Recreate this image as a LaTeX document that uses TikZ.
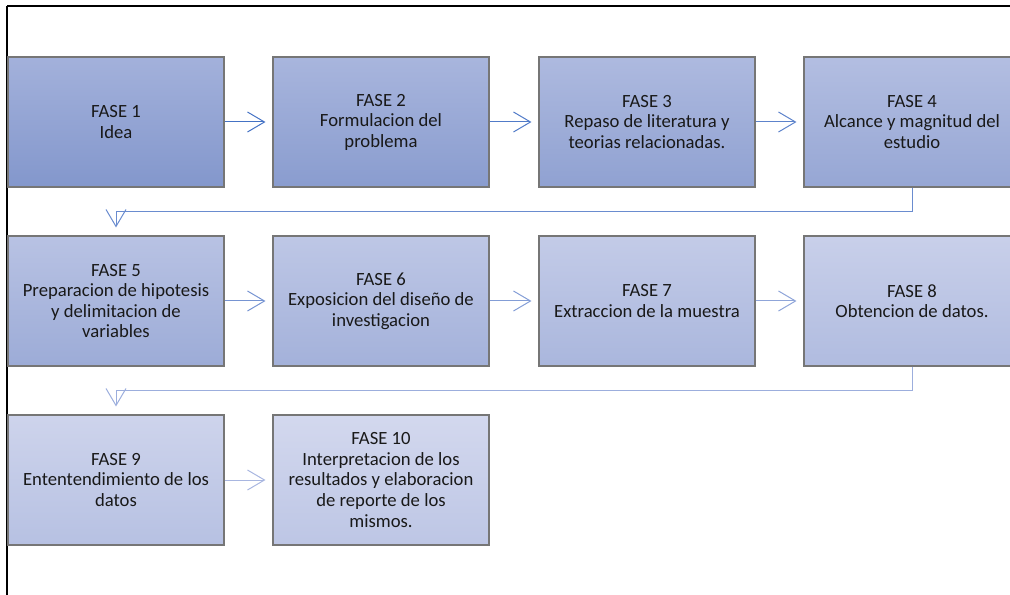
\documentclass[tikz,border=0pt]{standalone}
\usepackage{fontspec}
\setmainfont{Carlito}
\usetikzlibrary{arrows.meta}
\definecolor{topA}{HTML}{A3B1DB}
\definecolor{topB}{HTML}{D3D8EE}
\definecolor{botA}{HTML}{8397CC}
\definecolor{botB}{HTML}{BDC6E5}
\definecolor{arA}{HTML}{4472C4}
\definecolor{arB}{HTML}{A8B6E0}
\definecolor{boxline}{HTML}{767676}
\colorlet{t1}{topA}\colorlet{b1}{botA}
\colorlet{t2}{topB!11!topA}\colorlet{b2}{botB!11!botA}
\colorlet{t3}{topB!22!topA}\colorlet{b3}{botB!22!botA}
\colorlet{t4}{topB!33!topA}\colorlet{b4}{botB!33!botA}
\colorlet{t5}{topB!44!topA}\colorlet{b5}{botB!44!botA}
\colorlet{t6}{topB!56!topA}\colorlet{b6}{botB!56!botA}
\colorlet{t7}{topB!67!topA}\colorlet{b7}{botB!67!botA}
\colorlet{t8}{topB!78!topA}\colorlet{b8}{botB!78!botA}
\colorlet{t9}{topB!89!topA}\colorlet{b9}{botB!89!botA}
\colorlet{t10}{topB}\colorlet{b10}{botB}
\colorlet{a1}{arA}
\colorlet{a2}{arB!13!arA}
\colorlet{a3}{arB!25!arA}
\colorlet{a4}{arB!38!arA}
\colorlet{a5}{arB!50!arA}
\colorlet{a6}{arB!63!arA}
\colorlet{a7}{arB!75!arA}
\colorlet{a8}{arB!88!arA}
\colorlet{a9}{arB}
\tikzset{
  fase/.style={draw=boxline, line width=0.8pt, minimum width=162pt, minimum height=97.5pt,
    inner sep=0pt, align=center, text=black!90, font=\fontsize{14pt}{15.4pt}\selectfont},
  link/.style={line width=0.75pt,
    -{Straight Barb[length=12.75pt,width=15pt,line width=0.75pt]}, shorten >=5.25pt},
  frame/.style={black}
}
\begin{document}
\begin{tikzpicture}[x=0.75pt,y=-0.75pt]
\clip (0,0) rectangle (1010,595);
% frame
\draw[frame, line width=1.3pt] (7,6) -- (1010,6);
\draw[frame, line width=1.6pt] (7,6) -- (7,595);
% row 1
\node[fase, top color=t1, bottom color=b1] (f1) at (116,122) {FASE 1\\Idea};
\node[fase, top color=t2, bottom color=b2] (f2) at (381,122) {FASE 2\\Formulacion del\\problema};
\node[fase, top color=t3, bottom color=b3] (f3) at (647,122) {FASE 3\\Repaso de literatura y\\teorias relacionadas.};
\node[fase, top color=t4, bottom color=b4] (f4) at (912,122) {FASE 4\\Alcance y magnitud del\\estudio};
% row 2
\node[fase, top color=t5, bottom color=b5] (f5) at (116,301) {FASE 5\\Preparacion de hipotesis\\y delimitacion de\\variables};
\node[fase, top color=t6, bottom color=b6] (f6) at (381,301) {FASE 6\\Exposicion del diseño de\\investigacion};
\node[fase, top color=t7, bottom color=b7] (f7) at (647,301) {FASE 7\\Extraccion de la muestra};
\node[fase, top color=t8, bottom color=b8] (f8) at (912,301) {FASE 8\\Obtencion de datos.};
% row 3
\node[fase, top color=t9, bottom color=b9] (f9) at (116,480) {FASE 9\\Ententendimiento de los\\datos};
\node[fase, top color=t10, bottom color=b10] (f10) at (381,480) {FASE 10\\Interpretacion de los\\resultados y elaboracion\\de reporte de los\\mismos.};
% connectors
\draw[link, a1] (f1) -- (f2);
\draw[link, a2] (f2) -- (f3);
\draw[link, a3] (f3) -- (f4);
\draw[link, a4, shorten >=6pt] (f4.south) -- ++(0,24) -| (f5.north);
\draw[link, a5] (f5) -- (f6);
\draw[link, a6] (f6) -- (f7);
\draw[link, a7] (f7) -- (f8);
\draw[link, a8, shorten >=6pt] (f8.south) -- ++(0,24) -| (f9.north);
\draw[link, a9] (f9) -- (f10);
\end{tikzpicture}
\end{document}
